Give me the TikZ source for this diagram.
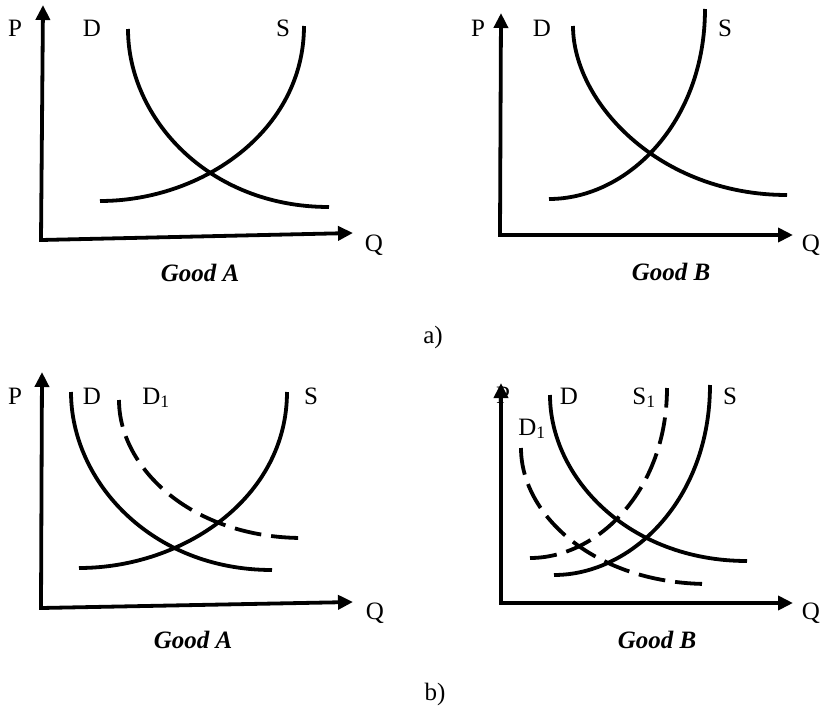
\documentclass[tikz,border=0pt]{standalone}
\usepackage{fontspec}
\setmainfont{Liberation Serif}
\usetikzlibrary{arrows.meta}

\tikzset{
	curve/.style={line width=3.8pt},
	shifted/.style={curve, dash pattern=on 27pt off 10pt},
	axis/.style={line width=3.8pt, {Triangle[length=15pt, width=14pt]}-{Triangle[length=15pt, width=14pt]}},
	lbl/.style={inner sep=0pt, anchor=base, font=\fontsize{25}{30}\selectfont},
	goodlbl/.style={lbl, font=\fontsize{25}{30}\selectfont\bfseries\itshape},
}

\begin{document}
\begin{tikzpicture}[x=1pt, y=-1pt]
	\useasboundingbox (0, 0) rectangle (825, 712);
	% Labels:
	\node[lbl](PA) at (15, 36){P};
	\node[lbl](DA) at (92, 36){D};
	\node[lbl](SA) at (283, 36){S};
	\node[lbl](QA) at (374, 251){Q};
	\node[goodlbl](GA) at (200, 281){Good A};
	\node[lbl](PB) at (478, 36){P};
	\node[lbl](DB) at (542, 36){D};
	\node[lbl](SB) at (725, 36){S};
	\node[lbl](QB) at (811, 251){Q};
	\node[goodlbl](GB) at (671, 280){Good B};
	\node[lbl](partA) at (433, 343){a)};
	\node[lbl](PC) at (15, 404){P};
	\node[lbl](DC) at (92, 404){D};
	\node[lbl](DoneC) at (156, 404){D\textsubscript{1}};
	\node[lbl](SC) at (311, 404){S};
	\node[lbl](QC) at (375, 619){Q};
	\node[goodlbl](GC) at (193, 648){Good A};
	\node[lbl](PD) at (503, 403){P};
	\node[lbl](DD) at (569, 404){D};
	\node[lbl](SoneD) at (644, 404){S\textsubscript{1}};
	\node[lbl](SD) at (730, 404){S};
	\node[lbl](DoneD) at (532, 435){D\textsubscript{1}};
	\node[lbl](QD) at (811, 619){Q};
	\node[goodlbl](GD) at (657, 648){Good B};
	\node[lbl](partB) at (435, 700){b)};
	% Axes:
	\coordinate (oA) at (41, 240);
	\coordinate (pA) at (43, 5);
	\coordinate (qA) at (353, 233);
	\coordinate (oB) at (500, 235);
	\coordinate (pB) at (501, 13);
	\coordinate (qB) at (793, 235);
	\coordinate (oC) at (41, 608);
	\coordinate (pC) at (42, 372);
	\coordinate (qC) at (353, 602);
	\coordinate (oD) at (501, 603);
	\coordinate (pD) at (501, 383);
	\coordinate (qD) at (793, 603);
	\draw[axis] (pA) -- (oA) -- (qA);
	\draw[axis] (pB) -- (oB) -- (qB);
	\draw[axis] (pC) -- (oC) -- (qC);
	\draw[axis] (pD) -- (oD) -- (qD);
	% Curves, good A (a):
	\draw[curve] (128, 29) .. controls (128, 118) and (208, 207) .. (329, 207);
	\draw[curve] (100, 201) .. controls (202, 201) and (304, 131) .. (304, 26);
	% Curves, good B (a):
	\draw[curve] (573, 26) .. controls (573, 102) and (659, 195) .. (787, 195);
	\draw[curve] (549, 199) .. controls (627, 199) and (705, 123) .. (705, 9);
	% Curves, good A (b):
	\draw[curve] (71, 392) .. controls (71, 481) and (151, 570) .. (272, 570);
	\draw[shifted] (119, 400) .. controls (119, 469) and (193, 538) .. (303, 538);
	\draw[curve] (79, 568) .. controls (183, 568) and (287, 498) .. (287, 392);
	% Curves, good B (b):
	\draw[curve] (550, 395) .. controls (550, 478) and (629, 561) .. (747, 561);
	\draw[curve] (554, 575) .. controls (632, 575) and (710, 499) .. (710, 385);
	\draw[shifted] (530, 558) .. controls (598, 558) and (667, 490) .. (667, 388);
	\draw[shifted] (521, 448) .. controls (521, 516) and (596, 584) .. (709, 584);
\end{tikzpicture}
\end{document}
